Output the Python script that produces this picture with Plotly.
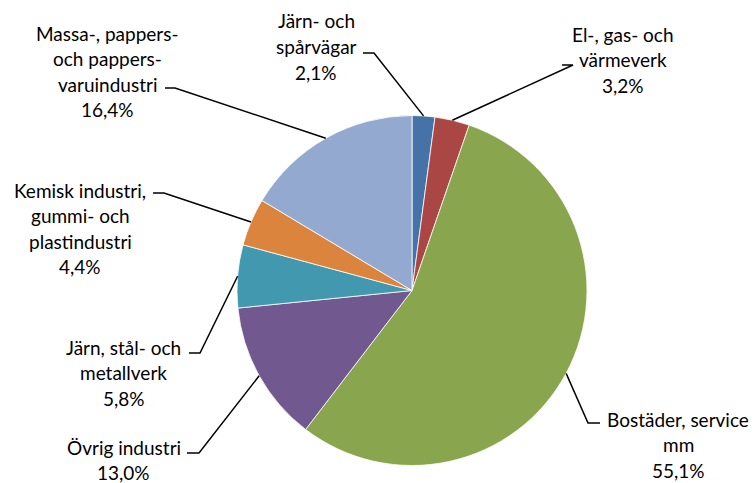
import math
import plotly.graph_objects as go

# ---- data ----
categories = [
    "Järn- och spårvägar",
    "El-, gas- och värmeverk",
    "Bostäder, service mm",
    "Övrig industri",
    "Järn, stål- och metallverk",
    "Kemisk industri, gummi- och plastindustri",
    "Massa-, pappers- och pappersvaruindustri",
]
values = [2.1, 3.2, 55.1, 13.0, 5.8, 4.4, 16.4]
value_labels = ["2,1%", "3,2%", "55,1%", "13,0%", "5,8%", "4,4%", "16,4%"]
label_lines = [
    ["Järn- och", "spårvägar"],
    ["El-, gas- och", "värmeverk"],
    ["Bostäder, service", "mm"],
    ["Övrig industri"],
    ["Järn, stål- och", "metallverk"],
    ["Kemisk industri,", "gummi- och", "plastindustri"],
    ["Massa-, pappers-", "och pappers-", "varuindustri"],
]
colors = ["#4572A7", "#AA4643", "#89A54E", "#71588F", "#4198AF", "#DB843D", "#93A9CF"]

# ---- layout (pixels) ----
W, H = 755, 483
CX, CY, R = 412, 290.5, 175
# label block: (center x, first line y), elbow (x, y), horizontal end x
label_pos = [
    (316, 21, (374, 53), 363),
    (623, 34, (573, 65), 562),
    (678, 419, (588, 423), 600),
    (124, 447, (199, 453), 187),
    (124, 347, (200, 353), 189),
    (80, 190, (164, 193), 153),
    (107, 33, (175, 88), 165),
]
LINE_H = 25.5
FONT = dict(family="Lato, 'Noto Sans', sans-serif", size=19, color="#000000")

def px(x):
    return x / W

def py(y):
    return 1 - y / H

fig = go.Figure(go.Pie(
    labels=categories,
    values=values,
    sort=False,
    direction="clockwise",
    rotation=0,
    textinfo="none",
    hoverinfo="label+percent",
    marker=dict(colors=colors, line=dict(color="#FFFFFF", width=0.8)),
    domain=dict(x=[px(CX - R), px(CX + R)], y=[py(CY + R), py(CY - R)]),
    showlegend=False,
))

annotations = []
shapes = []
total = sum(values)
cum = 0.0
for i, v in enumerate(values):
    mid = (cum + v / 2) / total * 2 * math.pi
    cum += v
    sx = CX + R * math.sin(mid)
    sy = CY - R * math.cos(mid)
    lx, ly, (ex, ey), hx = label_pos[i]
    lines = label_lines[i] + [value_labels[i]]
    for j, t in enumerate(lines):
        annotations.append(dict(
            x=px(lx), y=py(ly + j * LINE_H), xref="paper", yref="paper",
            text=t, showarrow=False, xanchor="center", yanchor="middle",
            font=FONT,
        ))
    shapes.append(dict(type="path", xref="paper", yref="paper",
                       path=f"M {px(sx)},{py(sy)} L {px(ex)},{py(ey)} L {px(hx)},{py(ey)}",
                       line=dict(color="#000000", width=1.5)))

fig.update_layout(
    width=W, height=H,
    margin=dict(l=0, r=0, t=0, b=0),
    paper_bgcolor="#FFFFFF",
    plot_bgcolor="#FFFFFF",
    annotations=annotations,
    shapes=shapes,
)

fig.write_html("out.html", config={"displayModeBar": False},
               post_script="document.body.style.margin='0';")
